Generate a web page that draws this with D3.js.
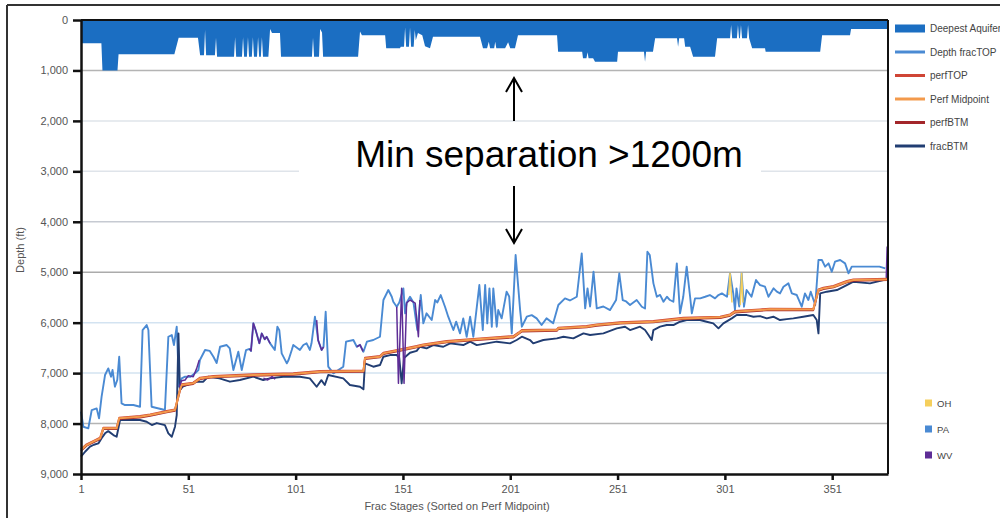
<!DOCTYPE html>
<html><head><meta charset="utf-8">
<script src="https://cdn.jsdelivr.net/npm/d3@7"></script>
<style>
html,body{margin:0;padding:0;background:#fff;overflow:hidden}
text{font-family:"Liberation Sans",Arial,sans-serif}
</style></head>
<body>
<svg id="c" width="1000" height="518"></svg>
<script>
// ---------------- DATA ----------------
const xTicks = [1, 51, 101, 151, 201, 251, 301, 351];
const yTicks = [0, 1000, 2000, 3000, 4000, 5000, 6000, 7000, 8000, 9000];
const legendTop = ["Deepest Aquifer", "Depth fracTOP", "perfTOP", "Perf Midpoint", "perfBTM", "fracBTM"];
const legendStates = ["OH", "PA", "WV"];
const annotation = "Min separation >1200m";

// Deepest aquifer depth [stage, ft]
const aquifer = [[1,460],[10.5,460],[11,1000],[18,1000],[18.5,680],[44.5,680],[46.5,350],[55.5,350],[56.5,700],[58.3,700],[58.8,200],[59.3,700],[63.4,700],[63.9,350],[64.4,730],[72.3,730],[72.8,340],[73.3,730],[76,730],[76.5,340],[77,730],[78.3,730],[78.8,340],[79.3,730],[80.6,730],[81.1,340],[81.6,730],[83,730],[83.5,340],[84,730],[84.8,730],[85.3,340],[85.8,730],[88.3,730],[89.1,180],[90,260],[93.7,260],[94.2,730],[108.6,730],[109.1,350],[109.6,730],[111.9,730],[112.4,180],[113.3,250],[113.8,730],[130.1,730],[131,230],[131.9,300],[142.7,300],[143.2,560],[149.6,560],[150,530],[151.5,530],[152,150],[152.5,530],[153.8,530],[154.3,150],[154.8,530],[156,530],[156.5,200],[157,400],[158,260],[160,300],[161.3,520],[163.6,560],[165,330],[186.9,330],[188.3,560],[190.2,560],[191,430],[191.6,560],[193.5,560],[194,430],[194.5,560],[198.6,560],[200,440],[201,560],[203.2,560],[204.6,300],[222.8,300],[223.3,630],[234.5,630],[234.9,760],[236.5,760],[237,640],[237.5,760],[239.6,760],[240.5,830],[250.8,830],[251.2,630],[263.3,630],[263.8,830],[264.3,630],[267.5,630],[268.5,360],[278.7,360],[279.2,530],[279.7,360],[282,360],[282.5,530],[284.8,530],[286.2,730],[296.4,730],[297.4,360],[303.4,360],[303.9,100],[304.4,360],[306.6,360],[307.1,100],[307.6,360],[308,360],[308.5,100],[309,360],[311.3,360],[311.8,100],[312.3,360],[313.7,560],[319.7,560],[320,630],[345.4,630],[346.3,300],[359.3,300],[359.8,180],[377,180]];

// Depth fracTOP [stage, ft]
const fracTop = [[1,7765],[2.1,8063],[4.4,8095],[6,7732],[8.3,7699],[9.4,7897],[10.6,7468],[12.2,7038],[13.7,6906],[15,7071],[15.7,6939],[16.8,7270],[17.9,7137],[18.8,6675],[19.9,7600],[21.5,7633],[25.4,7633],[28.5,7666],[29.7,6146],[31.6,6047],[32.4,6146],[33.9,7666],[40.1,7732],[41.7,6279],[43.3,6245],[44.3,6444],[45.6,6080],[46.7,7270],[47.9,7104],[49.5,7071],[52,7071],[54.5,6990],[55.7,6939],[56.4,6741],[58.8,6543],[61,6560],[62.7,6675],[64.2,6800],[65.8,6477],[68.9,6443],[70.3,6510],[72,6939],[74.3,6576],[75.9,6939],[77.9,6543],[79.5,6520],[80.2,6560],[81.3,6013],[82.4,6150],[84.1,6410],[85.2,6212],[86.6,6330],[87.5,6279],[89.1,6410],[91.3,6540],[92.5,6080],[93.4,6150],[94.5,6609],[96.9,6807],[97.7,6740],[99.2,6543],[99.9,6443],[103,6540],[104.6,6443],[106.1,6410],[107.6,6540],[108.4,6410],[110,5882],[111.5,6350],[113.1,6543],[114,6480],[115,5783],[116.2,6873],[118.6,7005],[123.2,6873],[124.5,6377],[127.9,6344],[129.5,6477],[131,6440],[132.6,6576],[134.2,6377],[137.2,6344],[140.3,6279],[141.9,5551],[144.2,5353],[145.8,5486],[146.5,5585],[148.1,5684],[149.3,5600],[151.2,5320],[152,5815],[152.8,5600],[154.3,5486],[155.9,5600],[157.7,6146],[159.3,5452],[160.5,6013],[162,5815],[164.4,5948],[166,5551],[167,5600],[168.6,5452],[170.6,5684],[172.1,5882],[174.5,6146],[175.8,5980],[177.6,6212],[179.1,5915],[180.7,6279],[182.3,5882],[183.8,6279],[186.6,5254],[188.2,6146],[189.3,5254],[190.3,6013],[191.3,5320],[192.4,6080],[193.1,5320],[194.7,6080],[195.4,5750],[197,5915],[199.3,5386],[200.5,5480],[201.7,6212],[203.5,4659],[205.6,5750],[206.4,6080],[208.7,5882],[211,5850],[213.3,5915],[215.6,6047],[217.9,5915],[221,6013],[223.4,5650],[226.5,5518],[228.8,5560],[232,5486],[234.3,4626],[235.9,5717],[237,5320],[238.2,5680],[239.8,4990],[241.3,5717],[244.4,5680],[247.5,5750],[250.3,5551],[251.8,5022],[253.4,5551],[255,5580],[256.8,5650],[259.9,5551],[262.3,5684],[263.8,5720],[264.9,4593],[266,4660],[267.7,5221],[269.3,5486],[270.8,5450],[272.4,5585],[274,5486],[275.4,5551],[277,5585],[278.6,4824],[280.1,5815],[281.6,5486],[283.2,4890],[284.8,5486],[285.6,5815],[287.1,5518],[289.5,5518],[291.8,5486],[294,5452],[296.4,5518],[298,5452],[299.6,5420],[302,5486],[303.4,5022],[304.9,5420],[305.7,5750],[306.4,5320],[307.7,5680],[308.8,5022],[309.9,5684],[311.1,5353],[313.4,5486],[315.5,5155],[317.4,5254],[319.7,5287],[321.3,5486],[323.7,5320],[325.2,5386],[326.7,5420],[328.3,5287],[330.6,5221],[332.2,5420],[334.5,5452],[336.8,5684],[338.3,5420],[339.9,5551],[341,5386],[343.1,5650],[344.6,4758],[346.2,4758],[347.7,4890],[349.3,4824],[350.8,4990],[352.3,4791],[354.7,4758],[357,4824],[358.6,5022],[360.1,4890],[364,4890],[373,4890],[375.7,4923]];

// perf rows: [stage, perfTOP, Perf Midpoint, perfBTM] (ft)
const perfRows = [[1,8510,8525,8540],[3.6,8411,8426,8441],[6.7,8345,8360,8375],[9.9,8278,8293,8308],[11.4,8080,8095,8110],[17.6,8080,8095,8110],[18.8,7882,7897,7912],[28.5,7850,7865,7880],[33.2,7816,7831,7846],[40.9,7750,7765,7780],[44.8,7717,7732,7747],[47.1,7320,7335,7350],[47.9,7221,7236,7251],[53.3,7188,7203,7218],[56.5,7089,7104,7119],[62.7,7056,7071,7086],[81.3,7023,7038,7053],[99.9,7003,7018,7033],[112.4,6957,6972,6987],[132.6,6945,6960,6975],[133.3,6693,6708,6723],[140.3,6660,6675,6690],[141.9,6594,6609,6624],[149.6,6528,6543,6558],[157.4,6462,6477,6492],[160.5,6429,6444,6459],[171.4,6362,6377,6392],[185.4,6316,6331,6346],[202.5,6264,6279,6294],[204.8,6197,6212,6227],[206.4,6145,6160,6175],[222.7,6131,6146,6161],[223.4,6098,6113,6128],[236.6,6065,6080,6095],[241.3,6032,6047,6062],[252.2,5990,6005,6020],[267.7,5966,5981,5996],[281.7,5900,5915,5930],[298.8,5880,5895,5910],[303.4,5834,5849,5864],[305.7,5768,5783,5798],[317.4,5735,5750,5765],[322,5721,5736,5751],[342.2,5725,5740,5755],[344.6,5338,5353,5368],[346.9,5305,5320,5335],[351.6,5272,5287,5302],[357.8,5173,5188,5203],[360.9,5140,5155,5170],[377,5127,5142,5157]];

// fracBTM [stage, ft]
const fracBtm = [[1,8657],[2.9,8559],[5.2,8459],[7,8420],[9.1,8393],[10.6,8293],[12.2,8194],[13.7,8150],[16.1,8228],[17.6,8261],[19.2,7930],[28.5,7930],[31.6,7964],[34,8030],[36.3,7990],[40.1,8030],[41.7,8194],[43.3,8261],[44.8,8063],[45.6,7831],[46.4,6212],[47.1,7335],[48.4,7270],[50.2,7236],[54.9,7170],[58,7170],[60.3,7071],[65.5,7104],[70.4,7170],[75,7137],[81.3,7071],[85.9,7137],[89,7104],[95.2,7071],[103,7071],[107.6,7104],[110.8,7270],[113,7140],[114.6,7236],[116.2,7038],[123.2,7104],[126.3,7236],[131,7270],[132.6,7322],[133.3,6807],[137.2,6873],[140.3,6840],[141.9,6675],[145,6642],[148.1,6642],[149.3,6700],[150.4,7203],[151.5,6700],[154.3,6596],[157.4,6560],[158.9,6477],[162,6510],[165.1,6444],[169.8,6477],[173,6410],[179.1,6444],[182.3,6377],[185.4,6444],[194.7,6377],[200.9,6410],[204,6344],[206.4,6279],[210.2,6344],[211.7,6410],[216.4,6344],[222.7,6311],[225.8,6279],[230.4,6311],[235.1,6212],[238.2,6245],[244.4,6212],[250.6,6113],[254.5,6080],[256.8,6146],[261.5,6080],[263.8,6146],[265.4,6245],[266.9,6344],[267.7,6146],[270.8,6080],[273.9,6047],[277,6047],[280.1,5981],[283.2,5948],[289.4,5948],[292.5,5981],[295.6,6013],[298,6113],[300.3,6013],[304.2,5915],[306.5,5849],[311.2,5849],[314.3,5882],[317.4,5870],[320.5,5915],[323.6,5882],[326.7,5948],[329.8,5930],[332.9,5915],[337.5,5882],[342.2,5849],[343.8,5948],[344.6,6212],[345.4,5419],[348.5,5386],[353.2,5353],[357.8,5254],[360.9,5188],[368.6,5221],[374.9,5155],[377,5100]];

// WV-coloured stretches [stage, ft]
const wvSegments = [
  [[46.7,7270],[47.9,7150],[49.5,7137],[51,7050],[53.3,7071],[54.9,6906],[56.1,6741]],
  [[79.5,6520],[80.2,6560],[81.3,6013],[82.4,6150],[84.1,6410],[85.2,6212],[86.6,6330],[87.5,6279],[89.1,6410]],
  [[86,7100],[88,7137],[90,7071],[91.5,7120]],
  [[110.8,5950],[111.5,6350],[113.1,6543],[114,6480]],
  [[129.5,6477],[131,6440],[132.4,6570]],
  [[148.1,5684],[148.9,7203],[150.4,5320],[151.5,7203],[152.7,5611],[154.3,5551],[156.7,5611],[158.2,6279],[158.9,5551]],
  [[376.2,5100],[376.6,4500],[377,4600]]
];
// OH-coloured stretches [stage, ft]
const ohSegments = [
  [[302.8,5450],[303.4,5022],[304.3,5600]],
  [[308.2,5650],[308.8,5022],[309.4,5600]]
];

// ---------------- DRAW ----------------
const svg = d3.select("#c");
const x = d3.scaleLinear().domain([1, 377]).range([81, 888]);
const y = d3.scaleLinear().domain([0, 9000]).range([20, 474]);

const col = {
  aq: "#1b6ec2", top: "#4a8ad3", ptop: "#cf4535", mid: "#f39a4c",
  pbtm: "#a3262a", btm: "#213d72", oh: "#f5cf5c", pa: "#4a8ad3", wv: "#5e2d96"
};

// outer frame
svg.append("line").attr("x1", 7).attr("x2", 1000).attr("y1", 5).attr("y2", 5).attr("stroke", "#333").attr("stroke-width", 2);
svg.append("line").attr("x1", 7).attr("x2", 7).attr("y1", 5).attr("y2", 518).attr("stroke", "#333").attr("stroke-width", 2);

// gridlines
const gridColor = d => ({1000:"#b4b4b4",2000:"#dfe4ea",3000:"#dfe4ea",4000:"#c6cad2",5000:"#ababab",6000:"#d3e3f1",7000:"#d3e3f1",8000:"#b4b4b4"})[d] || "none";
svg.append("g").selectAll("line").data(yTicks.filter(d => d > 0 && d < 9000)).join("line")
  .attr("x1", x(1)).attr("x2", x(377)).attr("y1", d => y(d)).attr("y2", d => y(d))
  .attr("stroke", gridColor).attr("stroke-width", 1.5);

// aquifer area
svg.append("path").datum(aquifer)
  .attr("d", d3.area().x(d => x(d[0])).y0(y(0)).y1(d => y(d[1])))
  .attr("fill", col.aq);

const line = d3.line().x(d => x(d[0])).y(d => y(d[1]));
const drawLine = (data, c, w) => svg.append("path").datum(data).attr("d", line)
  .attr("fill", "none").attr("stroke", c).attr("stroke-width", w).attr("stroke-linejoin", "round");

drawLine(fracTop, col.top, 1.9);
drawLine(fracBtm, col.btm, 1.9);
drawLine(perfRows.map(r => [r[0], r[3]]), col.pbtm, 1.8);
drawLine(perfRows.map(r => [r[0], r[1]]), col.ptop, 1.8);
drawLine(perfRows.map(r => [r[0], r[2]]), col.mid, 2);
wvSegments.forEach(s => drawLine(s, col.wv, 1.5));
ohSegments.forEach(s => drawLine(s, col.oh, 1.5));

// plot border top/right
svg.append("line").attr("x1", x(1)).attr("x2", x(377)).attr("y1", y(0)).attr("y2", y(0)).attr("stroke", "#111").attr("stroke-width", 2);
svg.append("line").attr("x1", x(377)).attr("x2", x(377)).attr("y1", y(0)).attr("y2", y(9000)).attr("stroke", "#111").attr("stroke-width", 2);

// axes
const yAxis = svg.append("g").attr("transform", `translate(${x(1)},0)`)
  .call(d3.axisLeft(y).tickValues(yTicks).tickFormat(d3.format(",")).tickSize(8).tickSizeOuter(0).tickPadding(5));
const xAxis = svg.append("g").attr("transform", `translate(0,${y(9000)})`)
  .call(d3.axisBottom(x).tickValues(xTicks).tickSize(6).tickSizeOuter(0).tickPadding(5));
[yAxis, xAxis].forEach(a => {
  a.select(".domain").attr("stroke", "#111").attr("stroke-width", 2.5);
  a.selectAll(".tick line").attr("stroke", "#111").attr("stroke-width", 2.5);
  a.selectAll(".tick text").attr("fill", "#555").style("font-size", "11px").style("font-family", '"Liberation Sans",Arial,sans-serif');
});

svg.append("text").attr("x", 457).attr("y", 510).attr("text-anchor", "middle")
  .attr("fill", "#555").style("font-size", "11px").text("Frac Stages (Sorted on Perf Midpoint)");
svg.append("text").attr("transform", "translate(24,250) rotate(-90)").attr("text-anchor", "middle")
  .attr("fill", "#555").style("font-size", "11px").text("Depth (ft)");

// legend (top right)
const legCols = [col.aq, col.top, col.ptop, col.mid, col.pbtm, col.btm];
const lg = svg.append("g");
legendTop.forEach((name, i) => {
  const yy = 28.5 + i * 23.5;
  if (i === 0) lg.append("rect").attr("x", 895).attr("y", yy - 4).attr("width", 30).attr("height", 8).attr("fill", legCols[i]);
  else lg.append("line").attr("x1", 895).attr("x2", 925).attr("y1", yy).attr("y2", yy).attr("stroke", legCols[i]).attr("stroke-width", 3);
  lg.append("text").attr("x", 930).attr("y", yy + 3.5).attr("fill", "#444").style("font-size", "10px").text(name);
});
const stCols = [col.oh, col.pa, col.wv];
legendStates.forEach((name, i) => {
  const yy = 403 + i * 26;
  lg.append("rect").attr("x", 925).attr("y", yy - 3.5).attr("width", 7).attr("height", 7).attr("fill", stCols[i]);
  lg.append("text").attr("x", 937).attr("y", yy + 3.5).attr("fill", "#444").style("font-size", "9.5px").text(name);
});

// annotation box + arrows
svg.append("rect").attr("x", 299).attr("y", 123).attr("width", 462).attr("height", 96).attr("fill", "#fff");
svg.append("text").attr("x", 549).attr("y", 167).attr("text-anchor", "middle").attr("fill", "#000")
  .style("font-size", "37px").style("font-family", '"Liberation Sans",Arial,sans-serif').text(annotation);
const ax = 514;
const arrow = (y1, y2, dir) => {
  const g = svg.append("g").attr("stroke", "#000").attr("stroke-width", 2).attr("fill", "none");
  g.append("line").attr("x1", ax).attr("x2", ax).attr("y1", y1).attr("y2", y2);
  g.append("path").attr("d", `M${ax - 8},${y2 + dir * 14}L${ax},${y2}L${ax + 8},${y2 + dir * 14}`);
};
arrow(121, 78, 1);
arrow(186, 243, -1);
</script>
</body></html>
